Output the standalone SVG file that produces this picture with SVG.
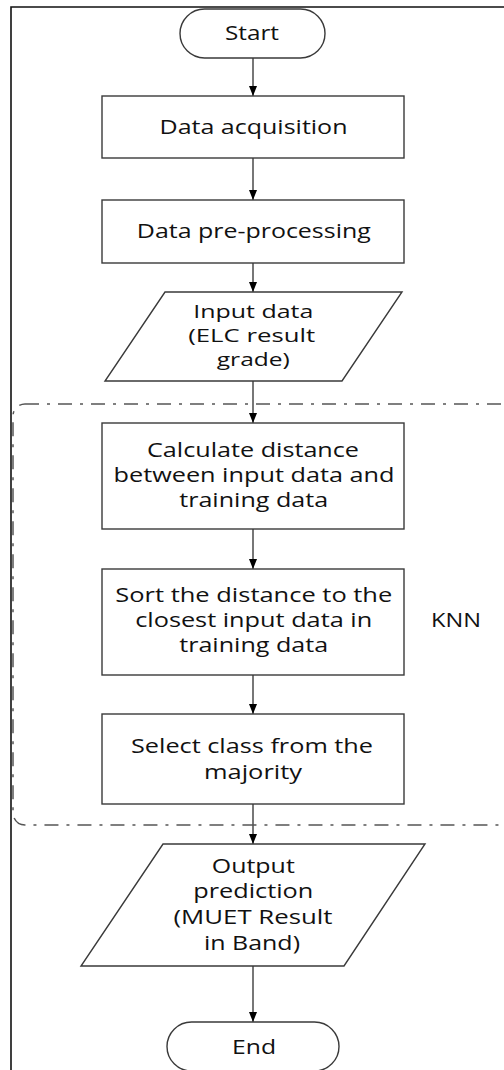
<svg xmlns="http://www.w3.org/2000/svg" width="504" height="1070" viewBox="0 0 504 1070">
<style>
.shape{fill:#fff;stroke:#3a3a3a;stroke-width:1.4}
.t{font-family:"Open Sans","DejaVu Sans",sans-serif;font-size:20px;fill:#111;text-anchor:middle}
.s{font-size:18.5px}
.conn line{stroke:#555;stroke-width:1.6}
</style>
<defs>
<marker id="ah" markerWidth="10" markerHeight="8" refX="10" refY="4" orient="auto" markerUnits="userSpaceOnUse">
<path d="M0,0 L10,4 L0,8 Z" fill="#000"/>
</marker>
</defs>
<rect width="504" height="1070" fill="#fff"/>
<g id="frame"><path d="M11,1070 V7 H506" fill="none" stroke="#111" stroke-width="1.6"/></g>
<g id="knn-group">
<rect x="13" y="404" width="500" height="421" rx="12" fill="none" stroke="#555" stroke-width="1.5" stroke-dasharray="14 8 3 8"/>
<text class="t" x="456" y="627" textLength="50" lengthAdjust="spacingAndGlyphs">KNN</text>
</g>
<g class="conn" id="connectors">
<line x1="253" y1="58" x2="253" y2="96" marker-end="url(#ah)"/>
<line x1="253" y1="158" x2="253" y2="200" marker-end="url(#ah)"/>
<line x1="253" y1="263" x2="253" y2="292" marker-end="url(#ah)"/>
<line x1="253" y1="381" x2="253" y2="423" marker-end="url(#ah)"/>
<line x1="253" y1="529" x2="253" y2="569" marker-end="url(#ah)"/>
<line x1="253" y1="675" x2="253" y2="714" marker-end="url(#ah)"/>
<line x1="253" y1="804" x2="253" y2="844" marker-end="url(#ah)"/>
<line x1="253" y1="966" x2="253" y2="1022" marker-end="url(#ah)"/>
</g>
<g id="start">
<rect class="shape" x="180" y="9" width="145" height="49" rx="24.5"/>
<text class="t" x="252" y="40" textLength="54" lengthAdjust="spacingAndGlyphs">Start</text>
</g>
<g id="acquisition">
<rect class="shape" x="102" y="96" width="302" height="62"/>
<text class="t" x="253.5" y="134" textLength="188" lengthAdjust="spacingAndGlyphs">Data acquisition</text>
</g>
<g id="preprocessing">
<rect class="shape" x="102" y="200" width="302" height="63"/>
<text class="t" x="253.8" y="238" textLength="234" lengthAdjust="spacingAndGlyphs">Data pre-processing</text>
</g>
<g id="input">
<polygon class="shape" points="165,292 402,292 342,381 105,381"/>
<text class="t s" x="253.3" y="318" textLength="120" lengthAdjust="spacingAndGlyphs">Input data</text>
<text class="t s" x="251.7" y="342" textLength="127" lengthAdjust="spacingAndGlyphs">(ELC result</text>
<text class="t s" x="253.3" y="366" textLength="73" lengthAdjust="spacingAndGlyphs">grade)</text>
</g>
<g id="calculate">
<rect class="shape" x="102" y="423" width="302" height="106"/>
<text class="t" x="253" y="457" textLength="212" lengthAdjust="spacingAndGlyphs">Calculate distance</text>
<text class="t" x="254" y="482" textLength="281" lengthAdjust="spacingAndGlyphs">between input data and</text>
<text class="t" x="253.7" y="507" textLength="149" lengthAdjust="spacingAndGlyphs">training data</text>
</g>
<g id="sort">
<rect class="shape" x="102" y="569" width="302" height="106"/>
<text class="t" x="253.8" y="602" textLength="277" lengthAdjust="spacingAndGlyphs">Sort the distance to the</text>
<text class="t" x="253.7" y="627" textLength="237" lengthAdjust="spacingAndGlyphs">closest input data in</text>
<text class="t" x="253.7" y="652" textLength="149" lengthAdjust="spacingAndGlyphs">training data</text>
</g>
<g id="select">
<rect class="shape" x="102" y="714" width="302" height="90"/>
<text class="t" x="252" y="753" textLength="242" lengthAdjust="spacingAndGlyphs">Select class from the</text>
<text class="t" x="253" y="779" textLength="98" lengthAdjust="spacingAndGlyphs">majority</text>
</g>
<g id="output">
<polygon class="shape" points="163,844 425,844 344,966 81,966"/>
<text class="t" x="253.3" y="873" textLength="83" lengthAdjust="spacingAndGlyphs">Output</text>
<text class="t" x="253.3" y="898" textLength="120" lengthAdjust="spacingAndGlyphs">prediction</text>
<text class="t" x="253" y="924" textLength="159" lengthAdjust="spacingAndGlyphs">(MUET Result</text>
<text class="t" x="252" y="950" textLength="96" lengthAdjust="spacingAndGlyphs">in Band)</text>
</g>
<g id="end">
<rect class="shape" x="167" y="1022" width="172" height="49" rx="24.5"/>
<text class="t" x="254" y="1054" textLength="44" lengthAdjust="spacingAndGlyphs">End</text>
</g>
</svg>
